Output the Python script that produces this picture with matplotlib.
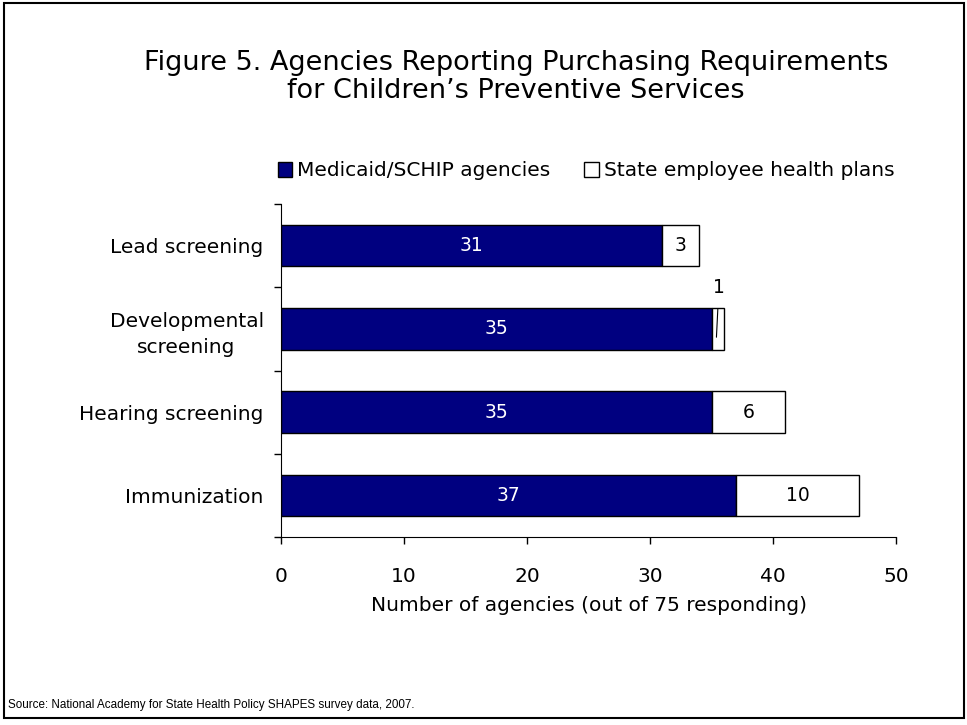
import matplotlib
matplotlib.use("Agg")
from matplotlib import pyplot as plt
from matplotlib.patches import Patch, Rectangle

categories = ["Lead screening", "Developmental\nscreening", "Hearing screening", "Immunization"]
medicaid = [31, 35, 35, 37]
state_plans = [3, 1, 6, 10]
xticks = [0, 10, 20, 30, 40, 50]

navy = "#000080"
plt.rcParams["font.family"] = ["DejaVu Sans"]

fig = plt.figure(figsize=(9.67, 7.25), dpi=100)
ax = fig.add_axes([0.2906, 0.2593, 0.6360, 0.4593])

ypos = list(range(len(categories)))
ax.barh(ypos, medicaid, height=0.5, color=navy, edgecolor="black", linewidth=1)
ax.barh(ypos, state_plans, left=medicaid, height=0.5, color="white",
        edgecolor="black", linewidth=1)

for y, m, s in zip(ypos, medicaid, state_plans):
    ax.text(m / 2, y, str(m), color="white", ha="center", va="center", fontsize=13.5)
    if s > 1:
        ax.text(m + s / 2, y, str(s), color="black", ha="center", va="center", fontsize=13.5)
    else:
        # thin slice: label sits above the bar with a leader line
        ax.annotate(str(s), xy=(m + s / 2 - 0.1, y + 0.1), xytext=(m + s / 2 + 0.1, y - 0.5),
                    ha="center", va="center", fontsize=13.5,
                    arrowprops=dict(arrowstyle="-", color="black", lw=0.8,
                                    shrinkA=7, shrinkB=0))

ax.set_ylim(len(categories) - 0.5, -0.5)
ax.set_xlim(0, 50)
ax.set_yticks(ypos)
ax.set_yticklabels(categories, multialignment="center", fontsize=14.5, linespacing=1.5)
ax.set_yticks([y - 0.5 for y in ypos] + [len(categories) - 0.5], minor=True)
ax.tick_params(axis="y", which="major", length=0, pad=12.5)
ax.tick_params(axis="y", which="minor", length=5, width=1)
ax.set_xticks(xticks)
ax.tick_params(axis="x", length=5, width=1, pad=16.5, labelsize=14.5)
ax.set_xlabel("Number of agencies (out of 75 responding)", fontsize=14.5, labelpad=7.5)
for side in ["top", "right"]:
    ax.spines[side].set_visible(False)

handles = [Patch(facecolor=navy, edgecolor="black", label="Medicaid/SCHIP agencies"),
           Patch(facecolor="white", edgecolor="black", label="State employee health plans")]
fig.legend(handles=handles, loc="center", bbox_to_anchor=(586 / 967, 1 - 171 / 725),
           ncol=2, frameon=False, fontsize=14.5, handlelength=0.7, handleheight=0.7,
           handletextpad=0.25, columnspacing=1.7)

fig.text(516 / 967, 1 - 63 / 725,
         "Figure 5. Agencies Reporting Purchasing Requirements",
         ha="center", va="center", fontsize=19.5)
fig.text(516 / 967, 1 - 91 / 725,
         "for Children\u2019s Preventive Services",
         ha="center", va="center", fontsize=19.5)
fig.text(8 / 967, 1 - 705 / 725,
         "Source: National Academy for State Health Policy SHAPES survey data, 2007.",
         family="Liberation Sans", fontsize=8.4, ha="left", va="center")

fig.patches.append(Rectangle((4 / 967, 1 - 718 / 725), 960 / 967, 715 / 725,
                             transform=fig.transFigure, fill=False,
                             edgecolor="black", linewidth=1.5))

fig.savefig("out.png", dpi=100)
